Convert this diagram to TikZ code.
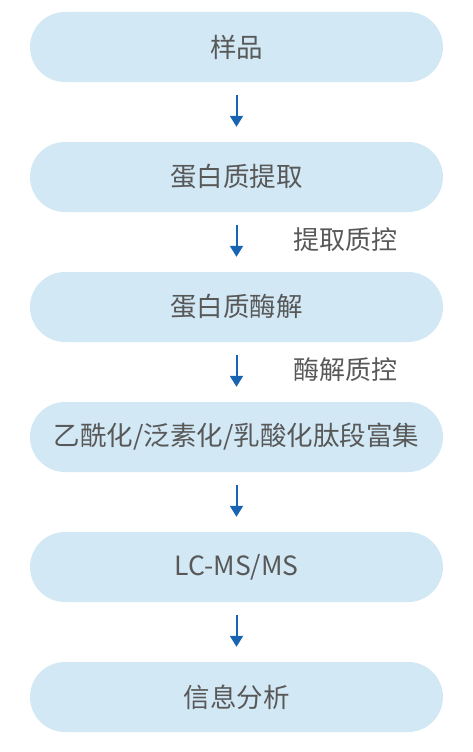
\documentclass[tikz,border=0pt]{standalone}
\usepackage{fontspec}
\setmainfont{Noto Sans CJK SC}
\usetikzlibrary{arrows.meta}
\definecolor{boxfill}{RGB}{210,232,245}
\definecolor{txtgray}{RGB}{88,88,88}
\definecolor{arrblue}{RGB}{22,100,178}
\tikzset{
  pill/.style={rounded corners=35bp, minimum width=413bp, minimum height=70bp, fill=boxfill, draw=none, text=txtgray, font=\fontsize{26.5bp}{31bp}\selectfont, inner sep=0pt},
  qlabel/.style={text=txtgray, font=\fontsize{26bp}{31bp}\selectfont, inner sep=0pt},
  flow/.style={draw=arrblue, line width=2bp, -{Triangle[width=13bp,length=11bp]}, shorten <=13bp, shorten >=15bp}
}
\begin{document}
\begin{tikzpicture}[x=1bp,y=-1bp]
\useasboundingbox (0,0) rectangle (473,752);
\node[pill] (b1) at (236.5,47) {样品};
\node[pill] (b2) at (236.5,177) {蛋白质提取};
\node[pill] (b3) at (236.5,307) {蛋白质酶解};
\node[pill] (b4) at (236.5,437) {乙酰化/泛素化/乳酸化肽段富集};
\node[pill] (b5) at (236.5,567) {LC-MS/MS};
\node[pill] (b6) at (236.5,697) {信息分析};
\draw[flow] (b1) -- (b2);
\draw[flow] (b2) -- (b3);
\draw[flow] (b3) -- (b4);
\draw[flow] (b4) -- (b5);
\draw[flow] (b5) -- (b6);
\node[qlabel] (q1) at (345,240) {提取质控};
\node[qlabel] (q2) at (345,370) {酶解质控};
\end{tikzpicture}
\end{document}
